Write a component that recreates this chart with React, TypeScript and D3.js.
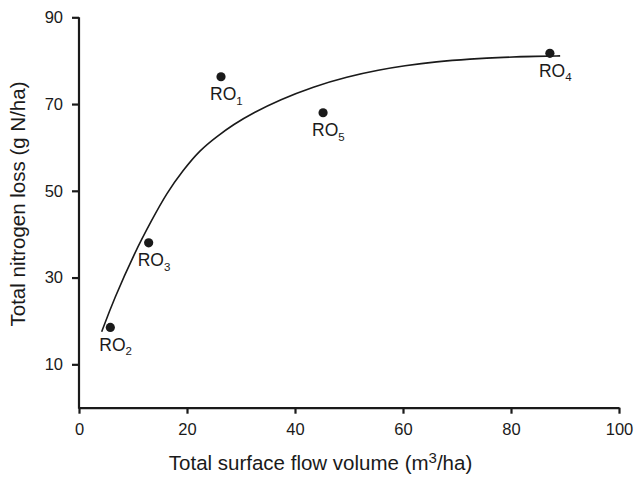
import { useRef, useEffect } from "react";
import * as d3 from "d3";

interface Obs {
  name: string;
  sub: string;
  flow: number;
  loss: number;
}

const obsNames = ["RO", "RO", "RO", "RO", "RO"];
const obsSubs = ["1", "2", "3", "4", "5"];
const obsFlow = [26.3, 5.8, 12.9, 87.2, 45.2];
const obsLoss = [76.3, 18.5, 38.0, 81.7, 68.0];

// fitted curve
const fitFlow = [4.2, 6.4, 10.4, 13.5, 16.2, 19.3, 22.4, 25.5, 28.6, 32.3, 37.2, 43.4, 49.6, 55.7, 60.1, 66.2, 72.4, 78.6, 84.8, 89.1];
const fitLoss = [17.5, 24.8, 36.0, 43.3, 49.4, 54.8, 59.4, 62.5, 65.3, 68.0, 71.0, 74.0, 76.3, 77.9, 78.8, 79.8, 80.4, 80.8, 81.0, 81.1];

const xTicks = [0, 20, 40, 60, 80, 100];
const yTicks = [10, 30, 50, 70, 90];

const W = 640;
const H = 480;
const FONT = "'Liberation Sans', Arial, sans-serif";
const INK = "#1a1a1a";

const App = () => {
  const ref = useRef<SVGSVGElement | null>(null);

  useEffect(() => {
    const svg = d3.select(ref.current);
    svg.selectAll("*").remove();

    const x = d3.scaleLinear().domain([0, 100]).range([79, 619]);
    const y = d3.scaleLinear().domain([0, 90]).range([407.7, 17.3]);

    const obs: Obs[] = obsFlow.map((f, i) => ({
      name: obsNames[i],
      sub: obsSubs[i],
      flow: f,
      loss: obsLoss[i],
    }));
    const fit = fitFlow.map((f, i) => [f, fitLoss[i]] as [number, number]);

    // axes
    const xAxis = svg
      .append("g")
      .attr("transform", `translate(0,${y(0)})`)
      .call(d3.axisBottom(x).tickValues(xTicks).tickSize(6).tickSizeOuter(0).tickPadding(10));
    const yAxis = svg
      .append("g")
      .attr("transform", `translate(${x(0)},0)`)
      .call(d3.axisLeft(y).tickValues(yTicks).tickSize(7).tickSizeOuter(0).tickPadding(9));

    [xAxis, yAxis].forEach((g) => {
      g.select(".domain").attr("stroke", INK).attr("stroke-width", 2.2);
      g.selectAll(".tick line").attr("stroke", INK).attr("stroke-width", 2.2);
      g.selectAll(".tick text")
        .attr("fill", INK)
        .style("font-family", FONT)
        .style("font-size", "16.5px");
    });
    // y domain should run down to the x axis line
    yAxis.select(".domain").attr("d", `M0,${y(90)}V${y(0) + 1}`);

    // fitted curve
    const line = d3
      .line<[number, number]>()
      .x((d) => x(d[0]))
      .y((d) => y(d[1]))
      .curve(d3.curveBasis);

    svg
      .append("path")
      .attr("d", line(fit))
      .attr("fill", "none")
      .attr("stroke", INK)
      .attr("stroke-width", 1.6);

    // points
    svg
      .append("g")
      .selectAll("circle")
      .data(obs)
      .enter()
      .append("circle")
      .attr("cx", (d) => x(d.flow))
      .attr("cy", (d) => y(d.loss))
      .attr("r", 4.6)
      .attr("fill", INK);

    // labels with subscript
    const lab = svg
      .append("g")
      .selectAll("text")
      .data(obs)
      .enter()
      .append("text")
      .attr("x", (d) => x(d.flow) - 11)
      .attr("y", (d) => y(d.loss) + 23.5)
      .attr("fill", INK)
      .style("font-family", FONT)
      .style("font-size", "17.5px");
    lab.append("tspan").text((d) => d.name);
    lab
      .append("tspan")
      .attr("dy", 4.5)
      .style("font-size", "11.5px")
      .text((d) => d.sub);

    // axis titles
    const xt = svg
      .append("text")
      .attr("x", 320.5)
      .attr("y", 470)
      .attr("text-anchor", "middle")
      .attr("fill", INK)
      .style("font-family", FONT)
      .style("font-size", "20.5px");
    xt.append("tspan").text("Total surface flow volume (m");
    xt.append("tspan").attr("dy", -7).style("font-size", "15px").text("3");
    xt.append("tspan").attr("dy", 7).text("/ha)");

    svg
      .append("text")
      .attr("transform", `translate(25,204) rotate(-90)`)
      .attr("text-anchor", "middle")
      .attr("fill", INK)
      .style("font-family", FONT)
      .style("font-size", "20.5px")
      .text("Total nitrogen loss (g N/ha)");
  }, []);

  return (
    <svg
      ref={ref}
      width={W}
      height={H}
      style={{ position: "absolute", left: 0, top: 0, background: "#fff" }}
    />
  );
};

export default App;
